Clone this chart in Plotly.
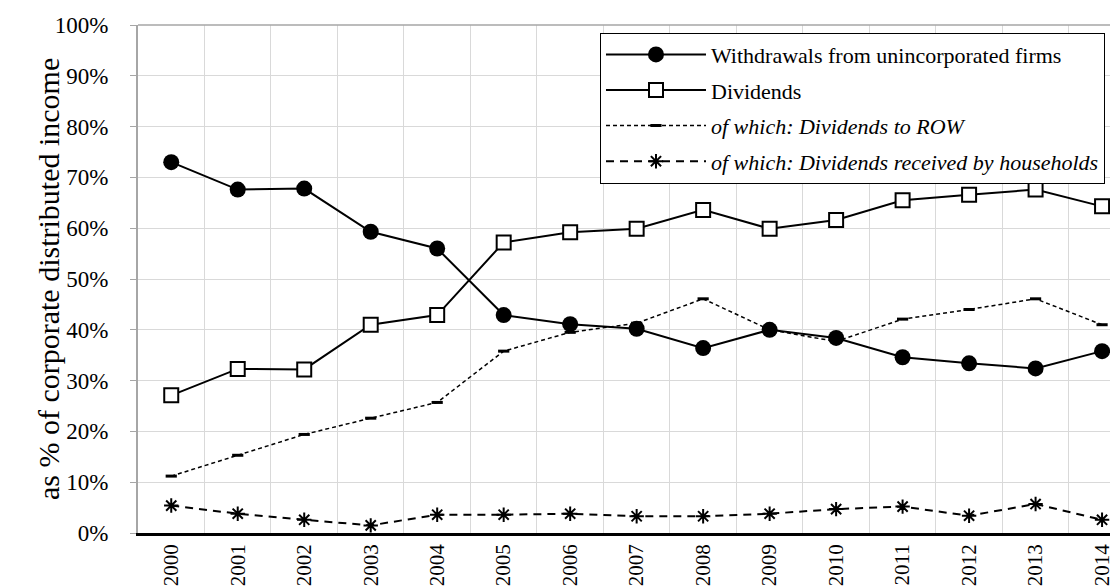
import plotly.graph_objects as go

years = list(range(2000, 2015))
withdrawals = [73.0, 67.6, 67.8, 59.3, 56.0, 42.9, 41.1, 40.2, 36.4, 40.0, 38.4, 34.6, 33.4, 32.4, 35.8]
dividends = [27.1, 32.3, 32.2, 41.0, 42.9, 57.2, 59.2, 59.9, 63.6, 59.9, 61.6, 65.5, 66.6, 67.6, 64.3]
div_row = [11.2, 15.3, 19.4, 22.6, 25.7, 35.8, 39.5, 41.3, 46.1, 40.0, 37.7, 42.1, 44.0, 46.1, 41.0]
div_hh = [5.4, 3.8, 2.6, 1.5, 3.6, 3.6, 3.8, 3.3, 3.3, 3.8, 4.7, 5.2, 3.4, 5.7, 2.6]

serif = "Liberation Serif"

fig = go.Figure()
fig.add_trace(go.Scatter(
    x=years, y=withdrawals, name="Withdrawals from unincorporated firms",
    mode="lines+markers", legendgroup="a",
    line=dict(color="black", width=2),
    marker=dict(symbol="circle", size=16, color="black")))
fig.add_trace(go.Scatter(
    x=years, y=dividends, name="Dividends",
    mode="lines+markers", legendgroup="b",
    line=dict(color="black", width=2),
    marker=dict(symbol="square", size=14, color="white", line=dict(color="black", width=2))))
fig.add_trace(go.Scatter(
    x=years, y=div_row, name="<i>of which: Dividends to ROW</i>",
    mode="lines+markers", legendgroup="c",
    line=dict(color="black", width=1.5, dash="4px,3px"),
    marker=dict(symbol="line-ew-open", size=8, color="black", line=dict(color="black", width=3))))
fig.add_trace(go.Scatter(
    x=years, y=div_hh, name="<i>of which: Dividends received by households</i>",
    mode="lines+markers", legendgroup="d",
    line=dict(color="black", width=2, dash="8px,6px"),
    marker=dict(symbol="asterisk-open", size=12, color="black", line=dict(color="black", width=2))))

# top border of the plot area
fig.add_shape(type="line", xref="paper", yref="paper", x0=0, x1=1, y0=1, y1=1,
              line=dict(color="#a6a6a6", width=1.5))

# y axis title as an annotation so it sits where the original has it
fig.add_annotation(
    text="as % of corporate distributed income", textangle=-90,
    xref="paper", yref="paper", x=-0.091, y=0.5, xanchor="center", yanchor="middle",
    showarrow=False, font=dict(family=serif, size=30, color="black"))

fig.update_layout(
    width=1118, height=588,
    margin=dict(l=130, r=0, t=17, b=63, autoexpand=False),
    paper_bgcolor="white", plot_bgcolor="white",
    font=dict(family=serif, size=21, color="black"),
    showlegend=True,
    legend=dict(
        x=0.4676, y=0.985, xanchor="left", yanchor="top",
        bgcolor="white", bordercolor="black", borderwidth=1,
        font=dict(family=serif, size=22),
        traceorder="grouped", tracegroupgap=4, itemwidth=100),
)
fig.update_xaxes(
    range=[1999.5, 2014.36],
    tickvals=years, ticktext=[str(y) for y in years],
    tickangle=-90, showgrid=False,
    minor=dict(tick0=1999.5, dtick=1, showgrid=True, gridcolor="#d9d9d9", gridwidth=1),
    showline=True, linecolor="black", linewidth=2.5,
    ticks="", zeroline=False,
    tickfont=dict(family=serif, size=21),
)
fig.update_yaxes(
    range=[0, 100], dtick=10, ticksuffix="%\u00a0\u00a0\u00a0",
    showgrid=True, gridcolor="#d9d9d9", gridwidth=1,
    showline=True, linecolor="#a6a6a6", linewidth=1.5,
    ticks="outside", ticklen=6, tickcolor="#a6a6a6",
    zeroline=False,
    tickfont=dict(family=serif, size=23),
)

fig.write_html("out.html")
